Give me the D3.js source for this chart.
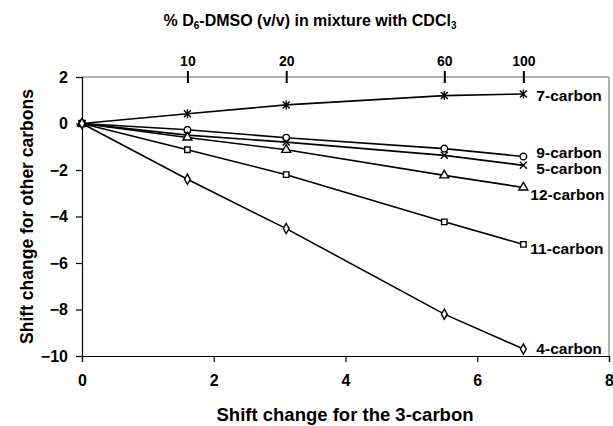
<!DOCTYPE html>
<html>
<head>
<meta charset="utf-8">
<script src="https://cdn.jsdelivr.net/npm/d3@7"></script>
<style>
  body { margin: 0; background: #fff; }
  svg text { font-family: "Liberation Sans", Arial, sans-serif; font-weight: bold; fill: #000; }
</style>
</head>
<body>
<div id="root"></div>
<script>
// x values: shift change for the 3-carbon at each DMSO mixture
const shift3 = [0, 1.6, 3.1, 5.5, 6.7];
const percentDMSO = ['', '10', '20', '60', '100'];

const seriesNames = ['7-carbon', '9-carbon', '5-carbon', '12-carbon', '11-carbon', '4-carbon'];
const carbon7 = [0, 0.42, 0.8, 1.2, 1.27];
const carbon9 = [0, -0.27, -0.61, -1.08, -1.42];
const carbon5 = [0, -0.5, -0.8, -1.37, -1.8];
const carbon12 = [0, -0.6, -1.13, -2.23, -2.75];
const carbon11 = [0, -1.13, -2.2, -4.23, -5.2];
const carbon4 = [0, -2.4, -4.52, -8.2, -9.7];
const seriesValues = [carbon7, carbon9, carbon5, carbon12, carbon11, carbon4];

const xTicks = [0, 2, 4, 6, 8];
const yTicks = [-10, -8, -6, -4, -2, 0, 2];

// layout
const width = 613, height = 426;
const margin = {top: 77, right: 4, bottom: 70, left: 82};
const symbolsByName = ['asterisk', 'circle', 'cross', 'triangle', 'square', 'diamond'];
const labelDy = [2, -4, 3, 7, 4, 0];

const chart = d3.select('#root')
  .append('svg:svg')
  .attr('width', width)
  .attr('height', height);

const x = d3.scaleLinear().domain([0, 8]).range([margin.left, width - margin.right]);
const y = d3.scaleLinear().domain([-10, 2]).range([height - margin.bottom, margin.top]);

// Plot box (top and right edges)
chart.append('svg:path')
  .attr('d', `M${x(0)},${y(2)}H${x(8)}V${y(-10)}`)
  .attr('fill', 'none')
  .attr('stroke', '#666')
  .attr('stroke-width', 1);

// Bottom axis
const xAxis = chart.append('svg:g')
  .attr('transform', `translate(0,${y(-10)})`)
  .call(d3.axisBottom(x).tickValues(xTicks).tickSize(6).tickPadding(13).tickFormat(d3.format('d')));

// Left axis
const yAxis = chart.append('svg:g')
  .attr('transform', `translate(${x(0)},0)`)
  .call(d3.axisLeft(y).tickValues(yTicks).tickSize(6).tickPadding(8).tickFormat(d3.format('d')));

[xAxis, yAxis].forEach(g => {
  g.selectAll('path, line').attr('stroke', '#000').attr('stroke-width', 1.2);
  g.selectAll('text').style('font-size', '16px');
});

// Top axis: % DMSO
const topAxis = chart.append('svg:g')
  .attr('transform', `translate(0,${y(2) - 6})`)
  .call(d3.axisTop(x)
    .tickValues(shift3.slice(1))
    .tickSize(-12)
    .tickPadding(5)
    .tickFormat((d, i) => percentDMSO[i + 1]));
topAxis.select('.domain').remove();
topAxis.selectAll('line').attr('stroke', '#000').attr('stroke-width', 2);
topAxis.selectAll('text').style('font-size', '14px');

const symbolPath = {
  circle: d3.symbol(d3.symbolCircle, 34)(),
  square: d3.symbol(d3.symbolSquare, 30)(),
  diamond: d3.symbol(d3.symbolDiamond, 30)(),
  triangle: d3.symbol(d3.symbolTriangle, 34)(),
  cross: 'M-3.5,-3.5L3.5,3.5M-3.5,3.5L3.5,-3.5',
  asterisk: 'M-3.5,-3.5L3.5,3.5M-3.5,3.5L3.5,-3.5M0,-4.5V4.5'
};

const series = seriesNames.map((name, i) => ({
  name,
  values: seriesValues[i],
  symbol: symbolsByName[i],
  dy: labelDy[i]
}));

const line = d3.line()
  .x((v, i) => x(shift3[i]))
  .y(v => y(v));

const layer = chart.append('svg:g');

layer.selectAll('.series-line')
  .data(series)
  .enter()
    .append('svg:path')
    .attr('d', d => line(d.values))
    .attr('fill', 'none')
    .attr('stroke', '#000')
    .attr('stroke-width', 1.6);

series.forEach(s => {
  layer.selectAll(null)
    .data(s.values)
    .enter()
      .append('svg:path')
      .attr('transform', (v, i) => `translate(${x(shift3[i])},${y(v)})`)
      .attr('d', symbolPath[s.symbol])
      .attr('fill', s.symbol === 'asterisk' || s.symbol === 'cross' ? 'none' : '#fff')
      .attr('stroke', '#000')
      .attr('stroke-width', 1.4);
});

// Series labels at the end of each line
layer.selectAll('.label')
  .data(series)
  .enter()
    .append('svg:text')
    .attr('x', d => x(shift3[shift3.length - 1]) + (d.name.length > 8 ? 7 : 13))
    .attr('y', d => y(d.values[d.values.length - 1]) + d.dy)
    .attr('dy', '0.35em')
    .style('font-size', '15.5px')
    .text(d => d.name);

// Titles
const title = chart.append('svg:text')
  .attr('x', 310)
  .attr('y', 26)
  .attr('text-anchor', 'middle')
  .style('font-size', '16px');
title.append('tspan').text('% D');
title.append('tspan').attr('dy', 3).style('font-size', '10px').text('6');
title.append('tspan').attr('dy', -3).text('-DMSO (v/v) in mixture with CDCl');
title.append('tspan').attr('dy', 3).style('font-size', '10px').text('3');

chart.append('svg:text')
  .attr('x', 345)
  .attr('y', 421)
  .attr('text-anchor', 'middle')
  .style('font-size', '18.5px')
  .text('Shift change for the 3-carbon');

chart.append('svg:text')
  .attr('transform', `translate(33,${(y(2) + y(-10)) / 2}) rotate(-90)`)
  .attr('text-anchor', 'middle')
  .style('font-size', '17.5px')
  .text('Shift change for other carbons');
</script>
</body>
</html>
